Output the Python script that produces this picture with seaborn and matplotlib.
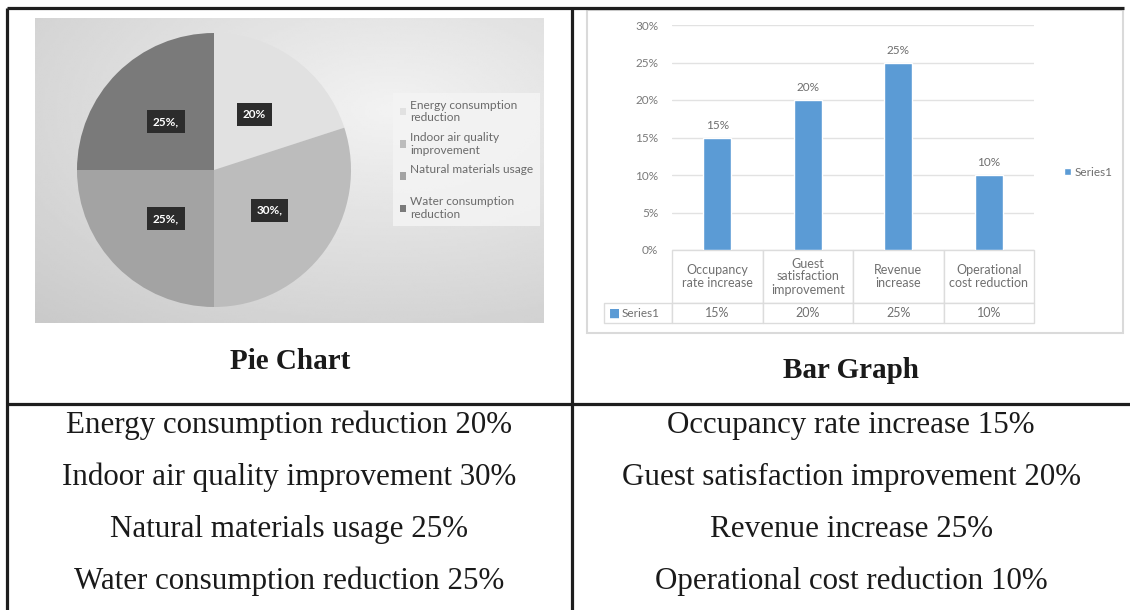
import numpy as np
import matplotlib.pyplot as plt
import seaborn as sns
from matplotlib.patches import Rectangle

# data
pie_labels = ["Energy consumption reduction", "Indoor air quality improvement",
              "Natural materials usage", "Water consumption reduction"]
pie_legend = ["Energy consumption\nreduction", "Indoor air quality\nimprovement",
              "Natural materials usage\n", "Water consumption\nreduction"]
pie_values = [20, 30, 25, 25]
pie_tags = ["20%", "30%,", "25%,", "25%,"]
pie_colors = ["#e1e1e1", "#bcbcbc", "#a3a3a3", "#7a7a7a"]

bar_labels = ["Occupancy rate increase", "Guest satisfaction improvement",
              "Revenue increase", "Operational cost reduction"]
bar_heads = ["Occupancy\nrate increase", "Guest\nsatisfaction\nimprovement",
             "Revenue\nincrease", "Operational\ncost reduction"]
bar_values = [15, 20, 25, 10]
y_ticks = [0, 5, 10, 15, 20, 25, 30]

sns.set_style("white")
plt.rcParams["font.family"] = ["Lato", "DejaVu Sans"]

W, H = 1130, 610
fig = plt.figure(figsize=(W / 100, H / 100), dpi=100)

def fbox(x0, y0, x1, y1):
    # pixel box (top-left origin) -> figure fraction
    return [x0 / W, 1 - y1 / H, (x1 - x0) / W, (y1 - y0) / H]

# background layer: table lines, picture frames, captions
bg = fig.add_axes([0, 0, 1, 1])
bg.axis("off")
gx, gy = np.meshgrid(np.linspace(0, 1, 220), np.linspace(0, 1, 140))
shade = 0.95 - 0.17 * np.sqrt(((gx - 0.7) / 1.1) ** 2 + ((gy - 0.3) / 1.0) ** 2)
bg.imshow(shade, cmap="gray", vmin=0, vmax=1, extent=(35, 544, 323, 18),
          aspect="auto", interpolation="bilinear")
bg.add_patch(Rectangle((587, 10), 536, 323, fc="white", ec="#dadada", lw=1.5))
line_kw = dict(color="#1e1e1e", lw=2.3, solid_capstyle="butt")
bg.plot([7, 1124], [8, 8], **line_kw)
bg.plot([7, 7], [8, 610], **line_kw)
bg.plot([572, 572], [8, 610], **line_kw)
bg.plot([7, 1130], [404, 404], **line_kw)

serif = ["Liberation Serif", "DejaVu Serif"]
bg.text(290, 369, "Pie Chart", ha="center", va="baseline", fontsize=21,
        fontweight="bold", family=serif, color="#1a1a1a")
bg.text(851, 378, "Bar Graph", ha="center", va="baseline", fontsize=21,
        fontweight="bold", family=serif, color="#1a1a1a")
for i, (lab, val) in enumerate(zip(pie_labels, pie_values)):
    bg.text(289, 433 + 52 * i, f"{lab} {val}%", ha="center", va="baseline",
            fontsize=22.3, family=serif, color="#1a1a1a")
for i, (lab, val) in enumerate(zip(bar_labels, bar_values)):
    bg.text(851, 433 + 52 * i, f"{lab} {val}%", ha="center", va="baseline",
            fontsize=22.3, family=serif, color="#1a1a1a")
bg.set_xlim(0, W)
bg.set_ylim(H, 0)

# pie chart
pax = fig.add_axes(fbox(214 - 137, 170 - 137, 214 + 137, 170 + 137))
pax.patch.set_alpha(0)
tags = iter(pie_tags)
wedges, _, autotexts = pax.pie(pie_values, colors=pie_colors, startangle=90,
                               counterclock=False, pctdistance=0.5,
                               autopct=lambda p: next(tags),
                               wedgeprops=dict(linewidth=0))
for t in autotexts:
    t.set_color("white")
    t.set_fontsize(8.5)
    t.set_fontweight("bold")
    t.set_bbox(dict(boxstyle="square,pad=0.5", fc="#2c2c2c", ec="none"))
pax.set_xlim(-1, 1)
pax.set_ylim(-1, 1)
leg = pax.legend(wedges, pie_legend, loc="upper left",
                 bbox_to_anchor=(393 / W, 1 - 93 / H), bbox_transform=fig.transFigure,
                 fontsize=8.6, labelcolor="#6a6a6a", frameon=True, fancybox=False,
                 facecolor="#f4f4f4", edgecolor="none", framealpha=0.85,
                 handlelength=0.55, handleheight=0.55, handletextpad=0.35,
                 labelspacing=0.7, borderpad=0.55, borderaxespad=0)

# bar chart
bax = fig.add_axes(fbox(672, 25, 1034, 250))
bax.patch.set_alpha(0)
sns.barplot(x=bar_heads, y=bar_values, color="#5b9bd5", saturation=1,
            width=0.31, ax=bax)
bax.bar_label(bax.containers[0], labels=[f"{v}%" for v in bar_values],
              padding=5, fontsize=8.5, color="#6e6e6e")
bax.set_ylim(0, 30)
bax.set_yticks(y_ticks)
bax.set_yticklabels([f"{v}%" for v in y_ticks], fontsize=8.5, color="#7a7a7a")
bax.set_xticks([])
bax.tick_params(axis="y", length=0, pad=10)
bax.yaxis.grid(True, color="#e2e2e2", lw=1)
bax.set_axisbelow(True)
for s in bax.spines.values():
    s.set_visible(False)

tbl = bax.table(cellText=[[""] + bar_heads, [""] + [f"{v}%" for v in bar_values]],
                colWidths=[68, 90.5, 90.5, 90.5, 90.5], cellLoc="center",
                bbox=[(604 - 672) / 362, -73 / 225, 430 / 362, 73 / 225])
tbl.auto_set_font_size(False)
tbl.set_fontsize(9)
for (r, c), cell in tbl.get_celld().items():
    cell.set_edgecolor("#dcdcdc")
    cell.set_linewidth(1)
    cell.set_height(53 if r == 0 else 20)
    cell.get_text().set_color("#707070")
    cell.get_text().set_linespacing(1.1)
tbl[(0, 0)].visible_edges = ""
bax.text(-0.158, -0.283, "■", transform=bax.transAxes, ha="center", va="center",
         fontsize=8.5, color="#5b9bd5", family="DejaVu Sans")
bax.text(-0.138, -0.283, "Series1", transform=bax.transAxes, ha="left", va="center",
         fontsize=8.5, color="#707070")
bax.legend(handles=[bax.containers[0][0]], labels=["Series1"], loc="center left",
           bbox_to_anchor=(1053 / W, 1 - 172 / H), bbox_transform=fig.transFigure,
           frameon=False, fontsize=8.5, labelcolor="#6e6e6e", handlelength=0.6,
           handleheight=0.6, handletextpad=0.3)

fig.savefig("out.png", dpi=100)
